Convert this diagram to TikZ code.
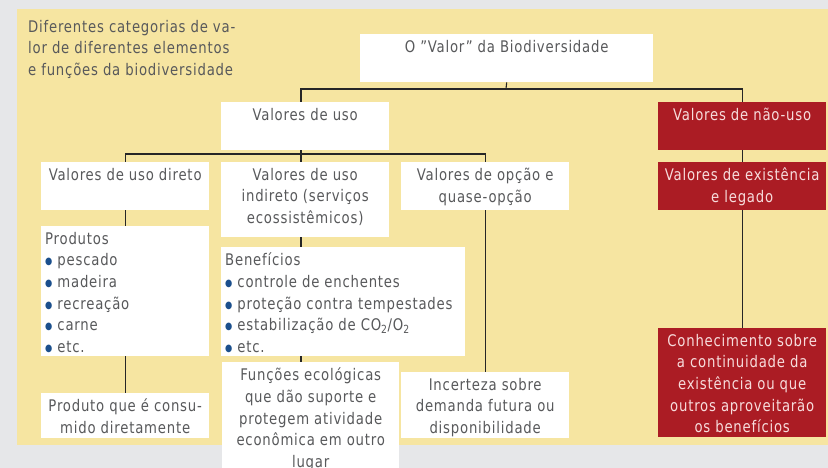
\documentclass[tikz,border=0pt]{standalone}
\usepackage{fontspec}
\setmainfont{DejaVu Sans Condensed}[FakeStretch=0.92,LetterSpace=5]
\usepackage{xcolor}
\definecolor{fundo}{HTML}{E6E7E9}
\definecolor{painel}{HTML}{F6E5A1}
\definecolor{vermelho}{HTML}{AB1C24}
\definecolor{texto}{HTML}{58595B}
\definecolor{rosa}{HTML}{F7DCDC}
\definecolor{marcador}{HTML}{1B4F8C}
\newcommand{\marca}{\textcolor{marcador}{\raisebox{1pt}{\fontsize{10}{10}\selectfont ●}}\ }
\tikzset{
  caixa/.style={fill=white, inner sep=0pt, anchor=north west},
  caixaverm/.style={fill=vermelho, inner sep=0pt, anchor=north west},
  rotulo/.style={anchor=north, align=center, text=texto, inner sep=0pt, yshift=-6pt},
  rotuloverm/.style={rotulo, text=rosa},
  lista/.style={anchor=north west, align=left, text=texto, inner sep=0pt, xshift=4pt, yshift=-6pt},
  liga/.style={draw=black!85, line width=1.1pt}
}
\begin{document}
\begin{tikzpicture}[x=1pt,y=-1pt,font=\fontsize{16}{21.6}\selectfont]
  \useasboundingbox (0,0) rectangle (828,468);
  \clip (0,0) rectangle (828,468);
  \fill[fundo] (0,0) rectangle (828,468);
  \fill[painel] (17,9) rectangle (828,445);

  \node[anchor=north west, align=left, text=texto, inner sep=0pt] (legenda) at (28,20)
    {Diferentes categorias de va-\\lor de diferentes elementos\\e funções da biodiversidade};

  % topo
  \node[caixa, minimum width=293, minimum height=48, label={[rotulo]north:O "Valor" da Biodiversidade}] (titulo) at (360,34) {};
  \node[caixa, minimum width=168, minimum height=48, label={[rotulo]north:Valores de uso}] (uso) at (221,102) {};
  \node[caixaverm, minimum width=168, minimum height=48, label={[rotuloverm]north:Valores de não-uso}] (naouso) at (658,102) {};

  % valores de uso
  \node[caixa, minimum width=168, minimum height=48, label={[rotulo]north:Valores de uso direto}] (direto) at (41,162) {};
  \node[caixa, minimum width=168, minimum height=75, label={[rotulo]north:Valores de uso\\indireto (serviços\\ecossistêmicos)}] (indireto) at (221,162) {};
  \node[caixa, minimum width=168, minimum height=48, label={[rotulo]north:Valores de opção e\\quase-opção}] (opcao) at (401,162) {};
  \node[caixaverm, minimum width=168, minimum height=48, label={[rotuloverm]north:Valores de existência\\e legado}] (existencia) at (658,162) {};

  % exemplos
  \node[caixa, minimum width=168, minimum height=130, label={[lista]north west:Produtos\\\marca pescado\\\marca madeira\\\marca recreação\\\marca carne\\\marca etc.}] (produtos) at (41,226) {};
  \node[caixa, minimum width=244, minimum height=109, label={[lista]north west:Benefícios\\\marca controle de enchentes\\\marca proteção contra tempestades\\\marca estabilização de CO\textsubscript{2}/O\textsubscript{2}\\\marca etc.}] (beneficios) at (221,247) {};

  % base
  \node[caixa, minimum width=168, minimum height=45, label={[rotulo]north:Produto que é consu-\\mido diretamente}] (consumo) at (41,393) {};
  \node[caixa, minimum width=177, minimum height=115, label={[rotulo]north:Funções ecológicas\\que dão suporte e\\protegem atividade\\econômica em outro\\lugar}] (funcoes) at (222,362) {};
  \node[caixa, minimum width=168, minimum height=66, label={[rotulo]north:Incerteza sobre\\demanda futura ou\\disponibilidade}] (incerteza) at (401,372) {};
  \node[caixaverm, minimum width=168, minimum height=109, label={[rotuloverm]north:Conhecimento sobre\\a continuidade da\\existência ou que\\outros aproveitarão\\os benefícios}] (conhecimento) at (658,328) {};

  % ligacoes
  \coordinate (j1) at (506,89);
  \coordinate (j2) at (301,154);
  \draw[liga] (titulo.south) -- (j1);
  \draw[liga] (uso.north -| j2) |- (j1) -| (naouso.north);
  \draw[liga] (uso.south -| j2) -- (j2);
  \draw[liga] (direto.north) |- (j2) -| (opcao.north);
  \draw[liga] (j2) -- (indireto.north -| j2);
  \draw[liga] (naouso.south) -- (existencia.north);
  \draw[liga] (existencia.south) -- (conhecimento.north);
  \draw[liga] (direto.south) -- (produtos.north);
  \draw[liga] (produtos.south) -- (consumo.north);
  \draw[liga] (indireto.south -| j2) -- (beneficios.north -| j2);
  \draw[liga] (beneficios.south -| j2) -- (funcoes.north -| j2);
  \draw[liga] (opcao.south) -- (incerteza.north);
\end{tikzpicture}
\end{document}
